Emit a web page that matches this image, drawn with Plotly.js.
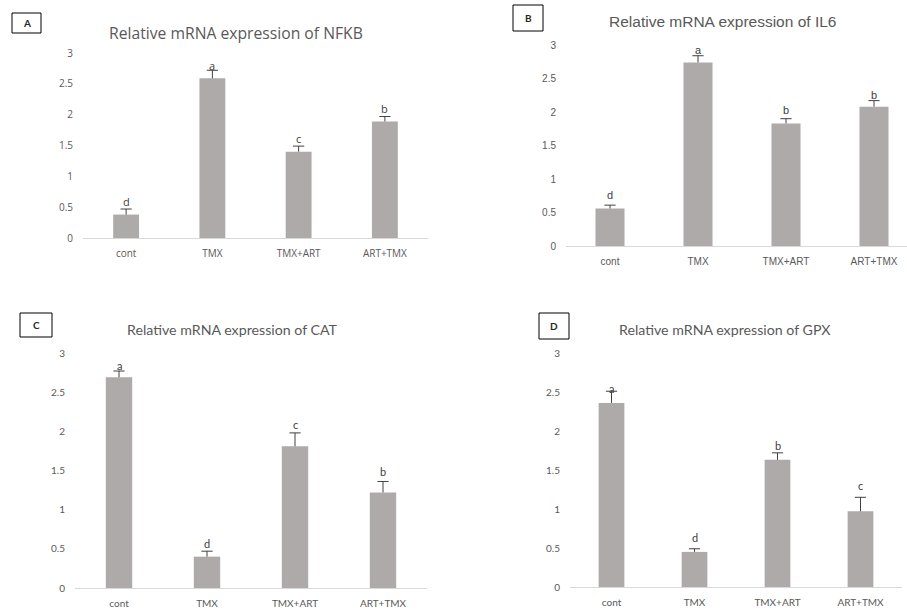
<!DOCTYPE html>
<html>
<head>
<meta charset="utf-8">
<script src="https://cdn.plot.ly/plotly-3.0.1.min.js"></script>
<style>html,body{margin:0;padding:0;background:#fff;}#chart{width:907px;height:611px;}</style>
</head>
<body>
<div id="chart"></div>
<script>
// ---- data ----
var categories = ['cont', 'TMX', 'TMX+ART', 'ART+TMX'];
var yTicks = [0, 0.5, 1, 1.5, 2, 2.5, 3];

var nfkbMean = [0.38, 2.59, 1.40, 1.89];
var nfkbErr  = [0.09, 0.13, 0.09, 0.08];
var nfkbLetters = ['d', 'a', 'c', 'b'];

var il6Mean = [0.56, 2.74, 1.83, 2.08];
var il6Err  = [0.05, 0.10, 0.07, 0.09];
var il6Letters = ['d', 'a', 'b', 'b'];

var catMean = [2.69, 0.40, 1.81, 1.22];
var catErr  = [0.08, 0.07, 0.17, 0.14];
var catLetters = ['a', 'd', 'c', 'b'];

var gpxMean = [2.36, 0.45, 1.63, 0.97];
var gpxErr  = [0.15, 0.04, 0.09, 0.18];
var gpxLetters = ['a', 'd', 'b', 'c'];

var panelLabels = ['A', 'B', 'C', 'D'];
var panelTitles = [
  'Relative mRNA expression of NFKB',
  'Relative mRNA expression of IL6',
  'Relative mRNA expression of CAT',
  'Relative mRNA expression of GPX'
];

// ---- styling / layout helpers ----
var W = 907, H = 611;
function px(x) { return x / W; }
function py(y) { return 1 - y / H; }
var barColor = '#AEAAAA';
var textGray = '#595959';
var errColor = '#404040';

var panels = [
  {mean: nfkbMean, err: nfkbErr, letters: nfkbLetters, x0: 83, x1: 428, yTop: 53, yBot: 238, xr: [-0.5, 3.5], bw: 0.30,
   font: 'Open Sans, sans-serif', titleSize: 15.7, tickSize: 10, titleX: 236, titleY: 33,
   box: [12, 13, 41, 33], letterShift: [13, 13, 13, 13]},
  {mean: il6Mean, err: il6Err, letters: il6Letters, x0: 566, x1: 907, yTop: 45, yBot: 246, xr: [-0.5, 3.375], bw: 0.33,
   font: 'Liberation Sans, Arial, sans-serif', titleSize: 15.5, tickSize: 10, titleX: 722, titleY: 22,
   box: [513, 5, 543, 31], letterShift: [13, 12, 13, 12]},
  {mean: catMean, err: catErr, letters: catLetters, x0: 75, x1: 427, yTop: 353, yBot: 588, xr: [-0.5, 3.5], bw: 0.30,
   font: 'Lato, sans-serif', titleSize: 14.2, tickSize: 10, titleX: 232, titleY: 329,
   box: [20, 313, 52, 337], letterShift: [12, 13, 22, 21]},
  {mean: gpxMean, err: gpxErr, letters: gpxLetters, x0: 570, x1: 902, yTop: 353, yBot: 587, xr: [-0.5, 3.5], bw: 0.31,
   font: 'Lato, sans-serif', titleSize: 14.2, tickSize: 10, titleX: 725, titleY: 329,
   box: [539, 313, 569, 339], letterShift: [14, 14, 14, 26]}
];

var traces = [], annotations = [], shapes = [];
var layout = {
  width: W, height: H,
  margin: {l: 0, r: 0, t: 0, b: 0},
  paper_bgcolor: '#ffffff', plot_bgcolor: '#ffffff',
  showlegend: false
};

panels.forEach(function (p, i) {
  var n = i === 0 ? '' : String(i + 1);
  var xa = 'x' + n, ya = 'y' + n;
  // bars with upward error stems (no caps)
  traces.push({
    type: 'bar', x: categories, y: p.mean, xaxis: xa, yaxis: ya,
    width: p.bw,
    marker: {color: barColor, line: {width: 0}},
    error_y: {type: 'data', symmetric: false, array: p.err,
              arrayminus: p.err.map(function () { return 0; }),
              color: errColor, thickness: 1, width: 0},
    hoverinfo: 'skip'
  });
  // error caps at the top of each error bar
  traces.push({
    type: 'scatter', mode: 'markers', xaxis: xa, yaxis: ya,
    x: categories, y: p.mean.map(function (m, k) { return m + p.err[k]; }),
    marker: {symbol: 'line-ew', size: 8, line: {color: errColor, width: 1}},
    hoverinfo: 'skip', cliponaxis: false
  });
  layout['xaxis' + n] = {
    domain: [px(p.x0), px(p.x1)], anchor: ya,
    range: p.xr, type: 'category',
    showline: true, linecolor: '#D9D9D9', linewidth: 1,
    ticks: '', showgrid: false, zeroline: false,
    tickfont: {family: p.font, size: p.tickSize, color: textGray},
    ticklabelstandoff: 6, fixedrange: true
  };
  layout['yaxis' + n] = {
    domain: [py(p.yBot), py(p.yTop)], anchor: xa,
    range: [0, 3], tickvals: yTicks,
    showline: false, showgrid: false, zeroline: false, ticks: '',
    tickfont: {family: p.font, size: p.tickSize, color: textGray},
    ticklabelstandoff: 9, fixedrange: true
  };
  // significance letters
  p.letters.forEach(function (L, k) {
    annotations.push({
      xref: xa, yref: ya, x: categories[k], y: p.mean[k],
      text: L, showarrow: false, yanchor: 'middle', yshift: p.letterShift[k],
      font: {family: p.font, size: 11, color: '#404040'}
    });
  });
  // panel title
  annotations.push({
    xref: 'paper', yref: 'paper', x: px(p.titleX), y: py(p.titleY),
    xanchor: 'center', yanchor: 'middle', text: panelTitles[i], showarrow: false,
    font: {family: p.font, size: p.titleSize, color: textGray}
  });
  // panel label box
  var b = p.box;
  shapes.push({
    type: 'rect', xref: 'paper', yref: 'paper',
    x0: px(b[0]), x1: px(b[2]), y0: py(b[3]), y1: py(b[1]),
    line: {color: '#000000', width: 1}, fillcolor: 'rgba(0,0,0,0)'
  });
  annotations.push({
    xref: 'paper', yref: 'paper', x: px((b[0] + b[2]) / 2), y: py((b[1] + b[3]) / 2),
    xanchor: 'center', yanchor: 'middle', text: '<b>' + panelLabels[i] + '</b>', showarrow: false,
    font: {family: 'Lato, sans-serif', size: 10, color: '#262626'}
  });
});

layout.annotations = annotations;
layout.shapes = shapes;

Plotly.newPlot('chart', traces, layout, {displayModeBar: false, staticPlot: true});
</script>
</body>
</html>
